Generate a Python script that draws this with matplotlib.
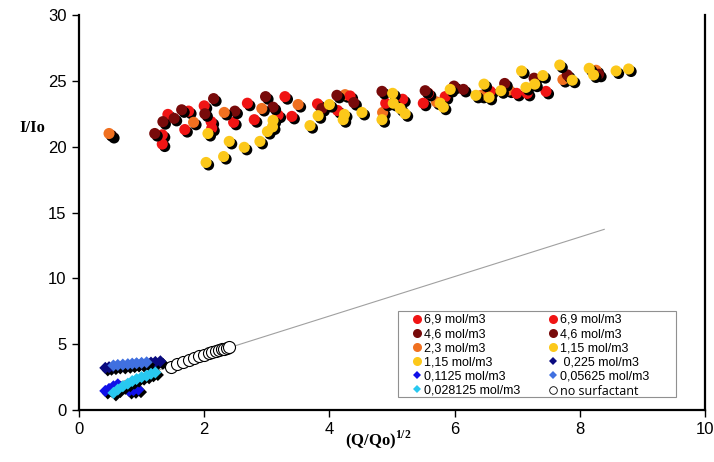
import matplotlib
matplotlib.use("Agg")
import matplotlib.pyplot as plt
import matplotlib.patheffects as pe
from matplotlib.lines import Line2D
from matplotlib.patches import Rectangle

plt.rcParams['font.family'] = ['Liberation Sans', 'DejaVu Sans']
plt.rcParams['mathtext.fontset'] = 'custom'
plt.rcParams['mathtext.rm'] = 'Liberation Serif'
plt.rcParams['mathtext.bf'] = 'Liberation Serif:bold'

# ---- data ----
red_a_x = [1.33, 1.33, 1.42, 1.75, 1.69, 2.00, 2.11, 2.12, 2.47, 2.69, 2.80, 3.18, 3.29]
red_a_y = [20.9, 20.2, 22.45, 22.7, 21.3, 23.1, 21.9, 21.4, 21.85, 23.3, 22.05, 22.4, 23.8]
red_b_x = [3.40, 3.81, 4.13, 4.33, 4.90, 5.17, 5.58, 5.50, 5.85, 6.57, 6.99, 7.16, 7.46]
red_b_y = [22.3, 23.25, 22.75, 23.85, 23.3, 23.6, 24.05, 23.3, 23.8, 24.2, 24.05, 24.05, 24.2]

dred_a_x = [0.52, 1.21, 1.34, 1.52, 1.64, 2.01, 2.15, 2.49, 2.98, 3.10]
dred_a_y = [20.85, 21.0, 21.9, 22.15, 22.8, 22.5, 23.65, 22.7, 23.8, 23.0]
dred_b_x = [3.88, 4.12, 4.39, 4.84, 5.53, 5.99, 6.14, 6.80, 7.27, 7.80, 8.30]
dred_b_y = [22.9, 23.9, 23.35, 24.2, 24.25, 24.6, 24.35, 24.8, 25.2, 25.45, 25.5]

orange_x = [0.48, 1.83, 2.32, 2.92, 3.50, 4.25, 4.85, 5.71, 6.43, 6.87, 7.73, 8.26]
orange_y = [21.0, 21.85, 22.6, 22.9, 23.2, 23.95, 22.6, 23.4, 23.9, 24.3, 25.1, 25.8]

gold_a_x = [2.06, 2.40, 2.31, 2.03, 2.64, 3.10, 3.09, 3.01, 2.89, 3.69, 4.00, 3.82,
            4.24, 4.22, 4.52, 4.84, 5.01, 5.02]
gold_a_y = [21.0, 20.4, 19.25, 18.8, 19.95, 22.0, 21.5, 21.15, 20.4, 21.6, 23.2, 22.35,
            22.45, 22.05, 22.6, 22.05, 24.05, 23.3]
gold_b_x = [5.13, 5.21, 5.77, 5.82, 5.93, 6.34, 6.47, 6.55, 6.74, 7.07, 7.14, 7.28,
            7.41, 7.68, 7.88, 8.15, 8.22, 8.58, 8.78]
gold_b_y = [22.9, 22.5, 23.3, 23.0, 24.35, 23.9, 24.75, 23.75, 24.25, 25.75, 24.5, 24.75,
            25.4, 26.2, 25.05, 25.95, 25.45, 25.75, 25.9]

navy_x = [0.42, 0.48, 0.55, 0.62, 0.70, 0.78, 0.85, 0.92, 1.00, 1.08, 1.15, 1.22, 1.30]
navy_y = [3.2, 3.25, 3.3, 3.35, 3.35, 3.4, 3.45, 3.5, 3.5, 3.55, 3.6, 3.65, 3.7]

blue_x = [0.42, 0.48, 0.55, 0.62, 0.80, 0.87, 0.95]
blue_y = [1.45, 1.6, 1.8, 1.95, 1.45, 1.5, 1.55]

cflower_x = [0.55, 0.62, 0.70, 0.78, 0.85, 0.92, 1.00, 1.08]
cflower_y = [3.38, 3.42, 3.45, 3.48, 3.52, 3.55, 3.58, 3.62]

cyan_x = [0.55, 0.62, 0.70, 0.78, 0.85, 0.92, 1.00, 1.08, 1.15, 1.22]
cyan_y = [1.3, 1.55, 1.8, 2.0, 2.2, 2.35, 2.5, 2.6, 2.75, 2.85]

open_x = [1.47, 1.57, 1.66, 1.75, 1.84, 1.92, 2.00, 2.07, 2.13, 2.19, 2.24, 2.28, 2.32, 2.36, 2.39]
open_y = [3.3, 3.5, 3.65, 3.8, 3.95, 4.1, 4.2, 4.3, 4.4, 4.5, 4.55, 4.6, 4.65, 4.7, 4.75]

trend_x = [0.55, 8.39]
trend_y = [1.96, 13.72]

legend_labels = ['6,9 mol/m3', '4,6 mol/m3', '2,3 mol/m3', '1,15 mol/m3', '0,1125 mol/m3',
                 '0,028125 mol/m3', '6,9 mol/m3', '4,6 mol/m3', '1,15 mol/m3',
                 ' 0,225 mol/m3', '0,05625 mol/m3', 'no surfactant']

# ---- colours ----
C_RED = '#f01414'
C_DRED = '#780a0a'
C_ORANGE = '#f07020'
C_GOLD = '#fcc81a'
C_NAVY = '#0a0a80'
C_BLUE = '#1010e8'
C_CFLOWER = '#4070e0'
C_CYAN = '#28c8f0'

fig = plt.figure(figsize=(7.14, 4.62), dpi=100)
ax = fig.add_axes([79/714, 1-410/462, 626/714, 395/462])

shadow = [pe.SimplePatchShadow(offset=(1.8, -1.8), shadow_rgbFace='black', alpha=1.0), pe.Normal()]

ax.plot(trend_x, trend_y, color='#a0a0a0', lw=0.8, zorder=1)

def sc(x, y, c, m='o', s=64):
    col = ax.scatter(x, y, s=s, c=c, marker=m, edgecolors='none', linewidths=0.0, zorder=3)
    col.set_path_effects(shadow)
    return col

sc(navy_x, navy_y, C_NAVY, m='D', s=38)
sc(cflower_x, cflower_y, C_CFLOWER, m='D', s=38)
sc(blue_x, blue_y, C_BLUE, m='D', s=38)
sc(cyan_x, cyan_y, C_CYAN, m='D', s=38)
ax.scatter(open_x, open_y, s=75, facecolors='white', edgecolors='black', linewidths=0.8, zorder=3)

sc(red_a_x, red_a_y, C_RED)
sc(dred_a_x, dred_a_y, C_DRED)
sc(orange_x, orange_y, C_ORANGE)
sc(red_b_x, red_b_y, C_RED)
sc(dred_b_x, dred_b_y, C_DRED)
sc(gold_a_x, gold_a_y, C_GOLD)
sc(gold_b_x, gold_b_y, C_GOLD)

ax.set_xlim(0, 10)
ax.set_ylim(0, 30)
ax.set_xticks([0, 2, 4, 6, 8, 10])
ax.set_yticks([0, 5, 10, 15, 20, 25, 30])
ax.tick_params(direction='out', length=5, width=1, labelsize=12, colors='black', pad=4)
ax.spines['top'].set_visible(False)
for s in ['left', 'bottom', 'right']:
    ax.spines[s].set_linewidth(1.6)

# legend box (drawn in axes fraction)
box = Rectangle((319/626, 13/395), 278/626, 86/395, transform=ax.transAxes, facecolor='white',
                edgecolor='#909090', linewidth=0.8, zorder=4)
ax.add_patch(box)

def h(c, m='o', ms=6.5, mfc=None):
    return Line2D([], [], ls='none', marker=m, markersize=ms, markerfacecolor=mfc if mfc else c,
                  markeredgecolor=c if mfc is None else 'black', markeredgewidth=0.6 if mfc else 0)

handles = [h(C_RED), h(C_DRED), h(C_ORANGE), h(C_GOLD), h(C_BLUE, 'D', 4.5), h(C_CYAN, 'D', 4.5),
           h(C_RED), h(C_DRED), h(C_GOLD), h(C_NAVY, 'D', 4.5), h(C_CFLOWER, 'D', 4.5),
           h('black', 'o', 5.5, mfc='white')]
leg = ax.legend(handles, legend_labels, ncol=2, loc='upper left',
                bbox_to_anchor=((413 - 79)/626, (410 - 314)/395),
                fontsize=9, frameon=False, handlelength=0.6, handletextpad=0.3,
                labelspacing=0.17, columnspacing=2.3, borderpad=0.0, borderaxespad=0)
leg.set_zorder(5)
leg.get_texts()[-1].set_family(['Open Sans', 'DejaVu Sans'])

fig.text(32/714, 1-128/462, 'I/Io', family='Liberation Serif', weight='bold', fontsize=12,
         ha='center', va='center')
fig.text(378/714, 1-440/462, r'(Q/Qo)$^{\mathbf{1/2}}$', family='Liberation Serif', weight='bold',
         fontsize=12, ha='center', va='center')

fig.savefig('out.png', dpi=100)
